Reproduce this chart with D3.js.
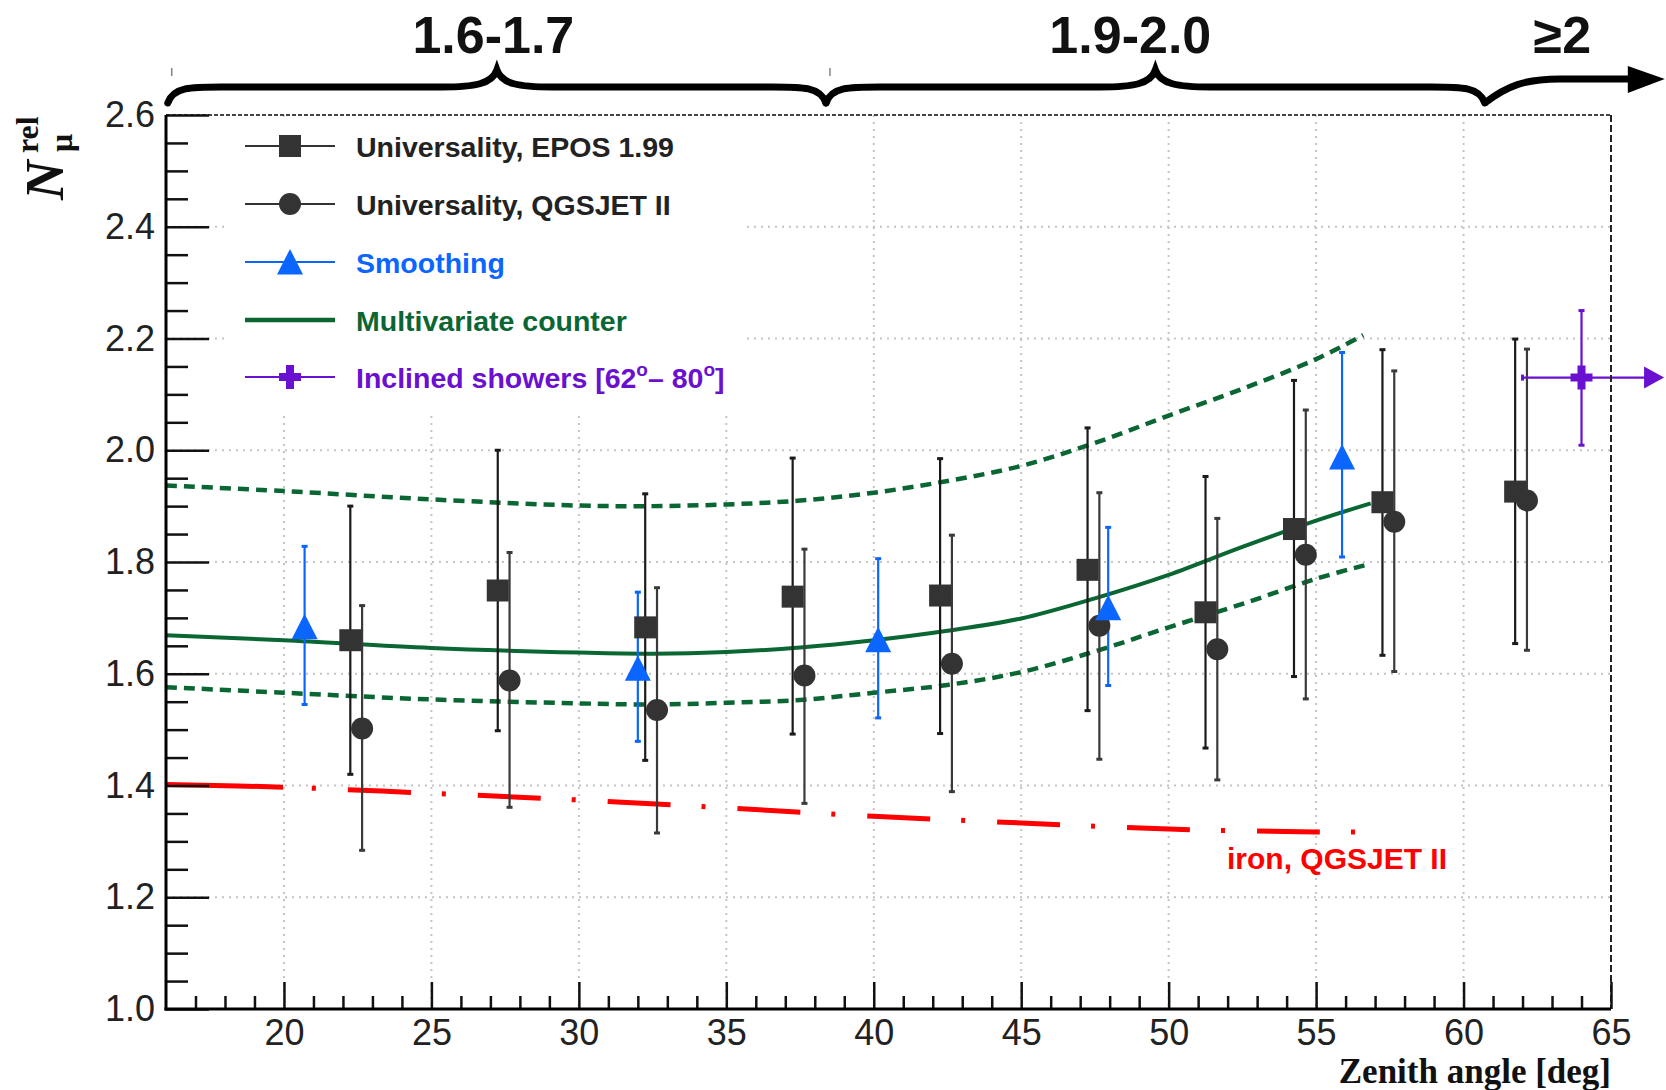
<!DOCTYPE html>
<html><head><meta charset="utf-8">
<script src="https://cdn.jsdelivr.net/npm/d3@7"></script>
<style>body{margin:0;background:#fff}svg{display:block}</style>
</head><body><svg id="c" width="1666" height="1090"></svg>
<script>
// ---------------- data ----------------
const eposAngle = [22.25, 27.25, 32.25, 37.25, 42.25, 47.25, 51.25, 54.25, 57.25, 61.75];
const eposValue = [1.660, 1.749, 1.683, 1.738, 1.740, 1.786, 1.710, 1.859, 1.907, 1.926];
const eposLow   = [1.420, 1.498, 1.445, 1.492, 1.493, 1.534, 1.467, 1.595, 1.633, 1.654];
const eposHigh  = [1.900, 2.000, 1.922, 1.986, 1.985, 2.040, 1.953, 2.125, 2.180, 2.199];

const qgsAngle = [22.65, 27.65, 32.65, 37.65, 42.65, 47.65, 51.65, 54.65, 57.65, 62.15];
const qgsValue = [1.502, 1.588, 1.535, 1.597, 1.618, 1.686, 1.644, 1.813, 1.872, 1.910];
const qgsLow   = [1.284, 1.361, 1.315, 1.368, 1.389, 1.447, 1.410, 1.555, 1.604, 1.642];
const qgsHigh  = [1.722, 1.817, 1.754, 1.823, 1.848, 1.924, 1.878, 2.072, 2.142, 2.181];

const smoothAngle = [20.70, 32.00, 40.15, 47.95, 55.88];
const smoothValue = [1.684, 1.610, 1.661, 1.718, 1.988];
const smoothLow   = [1.545, 1.479, 1.521, 1.579, 1.809];
const smoothHigh  = [1.828, 1.746, 1.806, 1.862, 2.175];

const inclAngle = [64.0];
const inclValue = [2.130];
const inclLow   = [2.009];
const inclHigh  = [2.250];
const inclAngleLow  = [62.0];
const inclAngleHigh = [66.8];

const mvAngle    = [16, 20, 25, 30, 32.5, 35, 37.5, 40, 42.5, 45, 47.5, 50, 52.5, 55, 56.85];
const mvValue    = [1.669, 1.660, 1.646, 1.638, 1.636, 1.639, 1.647, 1.660, 1.677, 1.699, 1.735, 1.777, 1.827, 1.874, 1.905];
const mvLowValue = [1.576, 1.566, 1.554, 1.547, 1.545, 1.548, 1.553, 1.566, 1.580, 1.603, 1.640, 1.683, 1.725, 1.770, 1.797];
const mvUpAngle  = [16, 20, 25, 30, 32.5, 35, 37.5, 40, 42.5, 45, 47.5, 50, 52.5, 55, 56.6];
const mvUpValue  = [1.937, 1.927, 1.912, 1.901, 1.900, 1.903, 1.910, 1.924, 1.945, 1.972, 2.013, 2.062, 2.110, 2.163, 2.206];

const ironAngle = [16, 20, 25, 30, 35, 40, 45, 50, 55, 56.5];
const ironValue = [1.402, 1.397, 1.386, 1.374, 1.360, 1.345, 1.333, 1.322, 1.317, 1.317];

const xMajorTicks = [20, 25, 30, 35, 40, 45, 50, 55, 60, 65];
const yMajorTicks = [1.0, 1.2, 1.4, 1.6, 1.8, 2.0, 2.2, 2.4, 2.6];
const xGridTicks = [20, 25, 30, 35, 40, 45, 50, 55, 60];
const yGridTicks = [1.2, 1.4, 1.6, 1.8, 2.0, 2.2, 2.4];

const legendLabels = ["Universality, EPOS 1.99", "Universality, QGSJET II", "Smoothing", "Multivariate counter", "Inclined showers [62", "]"];
const groupLabels = ["1.6-1.7", "1.9-2.0", "\u22652"];
const groupSpans = [[16.06, 38.38], [38.38, 60.72]];
const ironLabel = "iron, QGSJET II";
const xTitle = "Zenith angle [deg]";

// ---------------- setup ----------------
const svg = d3.select('#c');
const x = d3.scaleLinear().domain([16, 65]).range([166, 1611]);
const y = d3.scaleLinear().domain([1.0, 2.6]).range([1009, 115]);
const SANS = "'Liberation Sans', Arial, Helvetica, sans-serif";
const SERIF = "'Liberation Serif', 'Times New Roman', serif";
const cBlack = '#333333', cBar = '#1a1a1a', cBlue = '#0a66ff', cGreen = '#0a6632', cPurple = '#6a10d0', cRed = '#ff0000';

// grid
const grid = svg.append('g').attr('stroke', '#c4c4c4').attr('stroke-width', 2).attr('stroke-dasharray', '2,5');
grid.selectAll('.gx').data(xGridTicks).join('line').attr('class', 'gx')
  .attr('x1', d => x(d)).attr('x2', d => x(d)).attr('y1', y(2.6)).attr('y2', y(1.0));
grid.selectAll('.gy').data(yGridTicks).join('line').attr('class', 'gy')
  .attr('x1', x(16)).attr('x2', x(65)).attr('y1', d => y(d)).attr('y2', d => y(d));

// legend background
svg.append('rect').attr('x', 225).attr('y', 117).attr('width', 522).attr('height', 294).attr('fill', '#fff');

// lines
const line = d3.line().curve(d3.curveCatmullRom.alpha(0.5));
const pts = (a, v) => a.map((d, i) => [x(d), y(v[i])]);
svg.append('path').attr('d', line(pts(ironAngle, ironValue))).attr('fill', 'none')
  .attr('stroke', cRed).attr('stroke-width', 5)
  .attr('stroke-dasharray', '117,29,4,32' + ',63,31,4,32'.repeat(11));
svg.append('path').attr('d', line(pts(mvUpAngle, mvUpValue))).attr('fill', 'none')
  .attr('stroke', cGreen).attr('stroke-width', 4.5).attr('stroke-dasharray', '11,7');
svg.append('path').attr('d', line(pts(mvAngle, mvLowValue))).attr('fill', 'none')
  .attr('stroke', cGreen).attr('stroke-width', 4.5).attr('stroke-dasharray', '11,7');
svg.append('path').attr('d', line(pts(mvAngle, mvValue))).attr('fill', 'none')
  .attr('stroke', cGreen).attr('stroke-width', 4);

// error bars
function vbars(ang, lo, hi, color, w) {
  const g = svg.append('g').attr('stroke', color).attr('stroke-width', w);
  ang.forEach((a, i) => {
    g.append('line').attr('x1', x(a)).attr('x2', x(a)).attr('y1', y(lo[i])).attr('y2', y(hi[i]));
    g.append('line').attr('x1', x(a) - 3).attr('x2', x(a) + 3).attr('y1', y(lo[i])).attr('y2', y(lo[i])).attr('stroke-width', 3);
    g.append('line').attr('x1', x(a) - 3).attr('x2', x(a) + 3).attr('y1', y(hi[i])).attr('y2', y(hi[i])).attr('stroke-width', 3);
  });
}
vbars(eposAngle, eposLow, eposHigh, cBar, 2.2);
vbars(qgsAngle, qgsLow, qgsHigh, '#3a3a3a', 2.2);
vbars(smoothAngle, smoothLow, smoothHigh, cBlue, 2.2);
vbars(inclAngle, inclLow, inclHigh, cPurple, 2.2);
// inclined horizontal bar with arrow
inclAngle.forEach((a, i) => {
  const g = svg.append('g');
  g.append('line').attr('x1', x(inclAngleLow[i])).attr('x2', x(inclAngleHigh[i]) - 16)
    .attr('y1', y(inclValue[i])).attr('y2', y(inclValue[i])).attr('stroke', cPurple).attr('stroke-width', 2.2);
  g.append('line').attr('x1', x(inclAngleLow[i])).attr('x2', x(inclAngleLow[i]))
    .attr('y1', y(inclValue[i]) - 3).attr('y2', y(inclValue[i]) + 3).attr('stroke', cPurple).attr('stroke-width', 3);
  g.append('path').attr('transform', `translate(${x(inclAngleHigh[i])},${y(inclValue[i])})`)
    .attr('d', 'M0,0 L-20,-11 L-20,11 Z').attr('fill', cPurple);
});

// markers
const shapes = {
  square: 'M-11,-11 H11 V11 H-11 Z',
  circle: d3.symbol(d3.symbolCircle, Math.PI * 11 * 11)(),
  triangle: 'M0,-13 L13,12.5 L-13,12.5 Z',
  plus: 'M-4,-12 H4 V-4 H11 V4 H4 V12 H-4 V4 H-11 V-4 H-4 Z'
};
function markers(ang, val, shape, color) {
  svg.append('g').selectAll('path').data(ang).join('path')
    .attr('transform', (d, i) => `translate(${x(d)},${y(val[i])})`)
    .attr('d', shapes[shape]).attr('fill', color);
}
markers(eposAngle, eposValue, 'square', cBlack);
markers(qgsAngle, qgsValue, 'circle', cBlack);
markers(smoothAngle, smoothValue, 'triangle', cBlue);
markers(inclAngle, inclValue, 'plus', cPurple);

// iron label
svg.append('text').attr('x', 1227).attr('y', 869).text(ironLabel)
  .attr('font-family', SANS).attr('font-weight', 'bold').attr('font-size', 30).attr('fill', cRed);

// frame
svg.append('line').attr('x1', x(16)).attr('x2', x(65)).attr('y1', y(2.6)).attr('y2', y(2.6))
  .attr('stroke', '#444').attr('stroke-width', 2).attr('stroke-dasharray', '4,2');
svg.append('line').attr('x1', x(65)).attr('x2', x(65)).attr('y1', y(2.6)).attr('y2', y(1.0))
  .attr('stroke', '#222').attr('stroke-width', 2).attr('stroke-dasharray', '7,3');

// axes
const yMinor = d3.range(1.05, 2.6, 0.05).filter(v => Math.abs(v * 5 - Math.round(v * 5)) > 1e-6);
const xMinor = d3.range(17, 65, 1).filter(v => v % 5 !== 0);
function styleAxis(g) {
  g.select('.domain').remove();
  g.selectAll('line').attr('stroke', '#111').attr('stroke-width', 2.5);
  g.selectAll('text').attr('font-family', SANS).attr('font-size', 36).attr('fill', '#222');
}
svg.append('g').attr('transform', `translate(${x(16)},0)`)
  .call(d3.axisLeft(y).tickValues(yMinor).tickSizeInner(-22).tickSizeOuter(0).tickFormat(''))
  .call(styleAxis);
svg.append('g').attr('transform', `translate(${x(16)},0)`)
  .call(d3.axisLeft(y).tickValues(yMajorTicks).tickSizeInner(-43).tickSizeOuter(0).tickPadding(11).tickFormat(d3.format('.1f')))
  .call(styleAxis);
svg.append('g').attr('transform', `translate(0,${y(1.0)})`)
  .call(d3.axisBottom(x).tickValues(xMinor).tickSizeInner(-13).tickSizeOuter(0).tickFormat(''))
  .call(styleAxis);
svg.append('g').attr('transform', `translate(0,${y(1.0)})`)
  .call(d3.axisBottom(x).tickValues(xMajorTicks).tickSizeInner(-27).tickSizeOuter(0).tickPadding(10).tickFormat(d3.format('d')))
  .call(styleAxis);
svg.append('line').attr('x1', x(16)).attr('x2', x(16)).attr('y1', y(2.6)).attr('y2', y(1.0) + 1.5)
  .attr('stroke', '#000').attr('stroke-width', 3);
svg.append('line').attr('x1', x(16) - 1.5).attr('x2', x(65)).attr('y1', y(1.0)).attr('y2', y(1.0))
  .attr('stroke', '#000').attr('stroke-width', 3);

// axis titles
svg.append('text').attr('x', x(65)).attr('y', 1083).attr('text-anchor', 'end').text(xTitle)
  .attr('font-family', SERIF).attr('font-weight', 'bold').attr('font-size', 35).attr('fill', '#111');
const yt = svg.append('g').attr('transform', 'translate(63,200) rotate(-90)')
  .attr('font-family', SERIF).attr('font-weight', 'bold').attr('fill', '#111');
yt.append('text').attr('x', 0).attr('y', 0).attr('font-style', 'italic').attr('font-size', 55).text('N');
yt.append('text').attr('x', 47).attr('y', -25).attr('font-size', 32).text('rel');
yt.append('text').attr('x', 48).attr('y', 9).attr('font-size', 32).text('\u03bc');

// legend
const legY = [146, 204, 262, 320, 377];
const legColors = [cBlack, cBlack, cBlue, cGreen, cPurple];
const legText = ['#222', '#222', cBlue, cGreen, cPurple];
const legShape = ['square', 'circle', 'triangle', null, 'plus'];
legY.forEach((ly, i) => {
  svg.append('line').attr('x1', 245).attr('x2', 335).attr('y1', ly).attr('y2', ly)
    .attr('stroke', legColors[i]).attr('stroke-width', i === 3 ? 4.5 : 2.2);
  if (legShape[i]) svg.append('path').attr('transform', `translate(290,${ly})`).attr('d', shapes[legShape[i]]).attr('fill', legColors[i]);
  const t = svg.append('text').attr('x', 356).attr('y', ly + 10.5)
    .attr('font-family', SANS).attr('font-weight', 'bold').attr('font-size', 28.5).attr('fill', legText[i]);
  if (i < 4) t.text(legendLabels[i]);
  else {
    t.append('tspan').text(legendLabels[4]);
    t.append('tspan').attr('dy', -12).attr('font-size', 19).text('o');
    t.append('tspan').attr('dy', 12).text('\u2013 80');
    t.append('tspan').attr('dy', -12).attr('font-size', 19).text('o');
    t.append('tspan').attr('dy', 12).text(legendLabels[5]);
  }
});

// group braces
function brace(x1, x2) {
  const xm = (x1 + x2) / 2, yb = 103, yh = 87, yp = 70;
  return `M${x1},${yb} C${x1 + 6},${yh - 1} ${x1 + 25},${yh} ${x1 + 60},${yh} L${xm - 55},${yh} ` +
    `C${xm - 22},${yh} ${xm - 5},${yh - 3} ${xm},${yp} C${xm + 5},${yh - 3} ${xm + 22},${yh} ${xm + 55},${yh} ` +
    `L${x2 - 60},${yh} C${x2 - 25},${yh} ${x2 - 6},${yh - 1} ${x2},${yb}`;
}
const bg = svg.append('g').attr('fill', 'none').attr('stroke', '#000').attr('stroke-width', 7).attr('stroke-linecap', 'round');
groupSpans.forEach(s => bg.append('path').attr('d', brace(x(s[0]), x(s[1]))));
const ax = x(groupSpans[1][1]);
bg.append('path').attr('d', `M${ax},103 C${ax + 22},86 ${ax + 40},79 ${ax + 75},79 L${ax + 148},79`).attr('stroke-linecap', 'butt');
svg.append('path').attr('d', `M${ax + 143},66 L${ax + 180},79 L${ax + 143},93 Z`).attr('fill', '#000');
[groupSpans[0][0], groupSpans[1][0]].forEach(v => {
  svg.append('line').attr('x1', x(v) + 4).attr('x2', x(v) + 4).attr('y1', 68).attr('y2', 76).attr('stroke', '#666').attr('stroke-width', 1.2);
});
const glx = [x(27.1), x(48.7), x(63.35)];
groupLabels.forEach((t, i) => {
  svg.append('text').attr('x', glx[i]).attr('y', 53).attr('text-anchor', 'middle').text(t)
    .attr('font-family', SANS).attr('font-weight', 'bold').attr('font-size', 52).attr('fill', '#111');
});
</script></body></html>
